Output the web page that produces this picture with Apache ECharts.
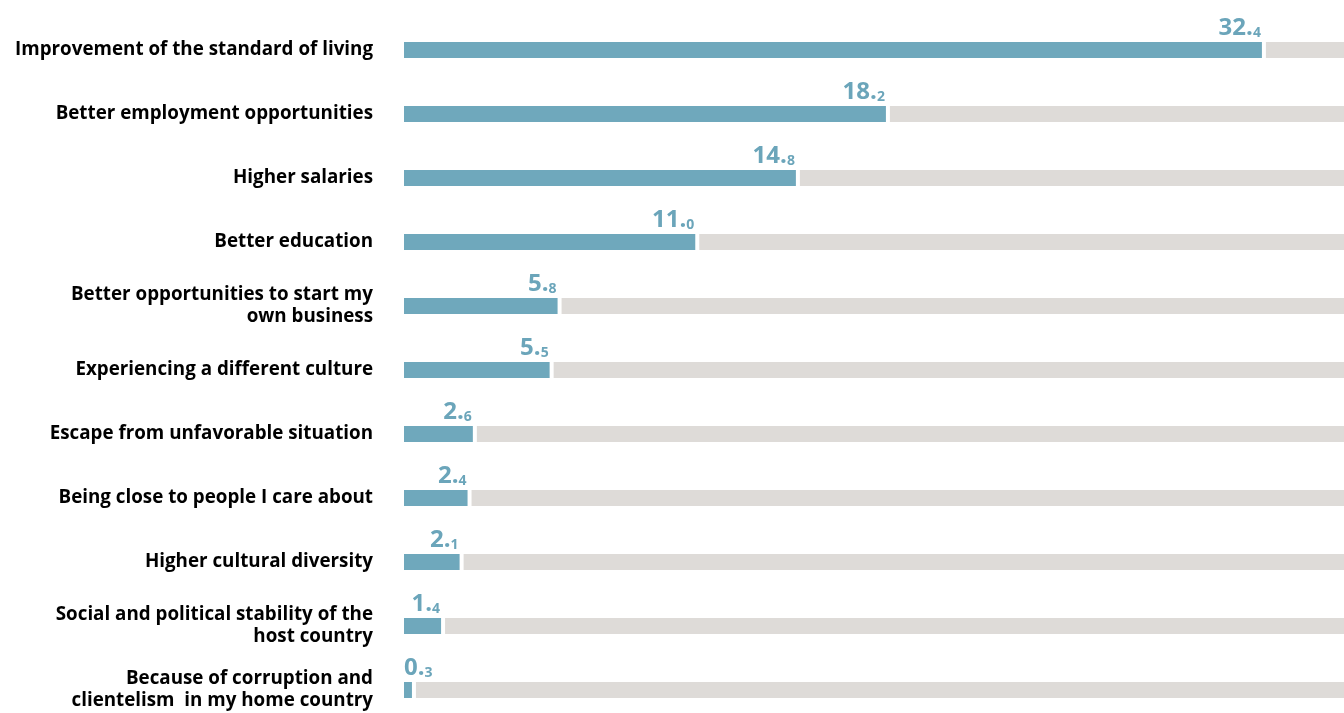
<!DOCTYPE html>
<html>
<head>
<meta charset="utf-8">
<script src="https://cdn.jsdelivr.net/npm/echarts@6/dist/echarts.min.js"></script>
<style>
html,body{margin:0;padding:0;background:#fff;}
#chart{width:1344px;height:713px;}
</style>
</head>
<body>
<div id="chart"></div>
<script>
const categories = [
  'Improvement of the standard of living',
  'Better employment opportunities',
  'Higher salaries',
  'Better education',
  'Better opportunities to start my\nown business',
  'Experiencing a different culture',
  'Escape from unfavorable situation',
  'Being close to people I care about',
  'Higher cultural diversity',
  'Social and political stability of the\nhost country',
  'Because of corruption and\nclientelism  in my home country'
];
const values = [32.4, 18.2, 14.8, 11.0, 5.8, 5.5, 2.6, 2.4, 2.1, 1.4, 0.3];
const axisMax = 35.5;

const BLUE = '#6fa8bc';
const LABEL_BLUE = '#6ba5ba';
const GREY = '#dedbd8';
const FONT = '"Open Sans", "Noto Sans", sans-serif';
const INT_SIZE = 24, DEC_SIZE = 14;

const ctx = document.createElement('canvas').getContext('2d');
function measure(t, size) {
  ctx.font = 'bold ' + size + 'px ' + FONT;
  return ctx.measureText(t).width;
}

function renderItem(params, api) {
  const v = api.value(0);
  const cat = api.value(1);
  const p0 = api.coord([0, cat]);
  const p1 = api.coord([v, cat]);
  const h = 16;
  const cs = params.coordSys;
  const right = cs.x + cs.width;
  const top = p0[1] - h / 2;
  const parts = v.toFixed(1).split('.');
  const intTxt = parts[0] + '.';
  const decTxt = parts[1];
  const w = measure(intTxt, INT_SIZE) + measure(decTxt, DEC_SIZE);
  let xr = p1[0] - 1;
  if (xr - w < p0[0]) xr = p0[0] + w;
  return {
    type: 'group',
    children: [
      { type: 'rect', shape: { x: p0[0], y: top, width: p1[0] - p0[0], height: h }, style: { fill: BLUE } },
      { type: 'rect', shape: { x: p1[0] + 4, y: top, width: right - p1[0] - 4, height: h }, style: { fill: GREY } },
      {
        type: 'text', x: xr, y: top - 1.5,
        style: {
          text: '{i|' + intTxt + '}{d|' + decTxt + '}',
          align: 'right', verticalAlign: 'bottom',
          rich: {
            i: { fontSize: INT_SIZE, lineHeight: 24, fontWeight: 'bold', fontFamily: FONT, fill: LABEL_BLUE, verticalAlign: 'bottom' },
            d: { fontSize: DEC_SIZE, lineHeight: 18, fontWeight: 'bold', fontFamily: FONT, fill: LABEL_BLUE, verticalAlign: 'bottom' }
          }
        }
      }
    ]
  };
}

const chart = echarts.init(document.getElementById('chart'), null, { renderer: 'canvas' });
chart.setOption({
  animation: false,
  grid: { left: 404, right: 0, top: 18, height: 704, containLabel: false, outerBoundsMode: 'none' },
  xAxis: {
    type: 'value', min: 0, max: axisMax,
    show: false
  },
  yAxis: {
    type: 'category', data: categories, inverse: true,
    axisLine: { show: false }, axisTick: { show: false }, splitLine: { show: false },
    axisLabel: {
      margin: 31, color: '#000', fontSize: 18.8, fontWeight: 'bold', fontFamily: FONT,
      lineHeight: 22, align: 'right'
    }
  },
  series: [{
    type: 'custom',
    renderItem: renderItem,
    encode: { x: 0, y: 1 },
    data: values.map((v, i) => [v, i]),
    clip: false
  }]
});
</script>
</body>
</html>
